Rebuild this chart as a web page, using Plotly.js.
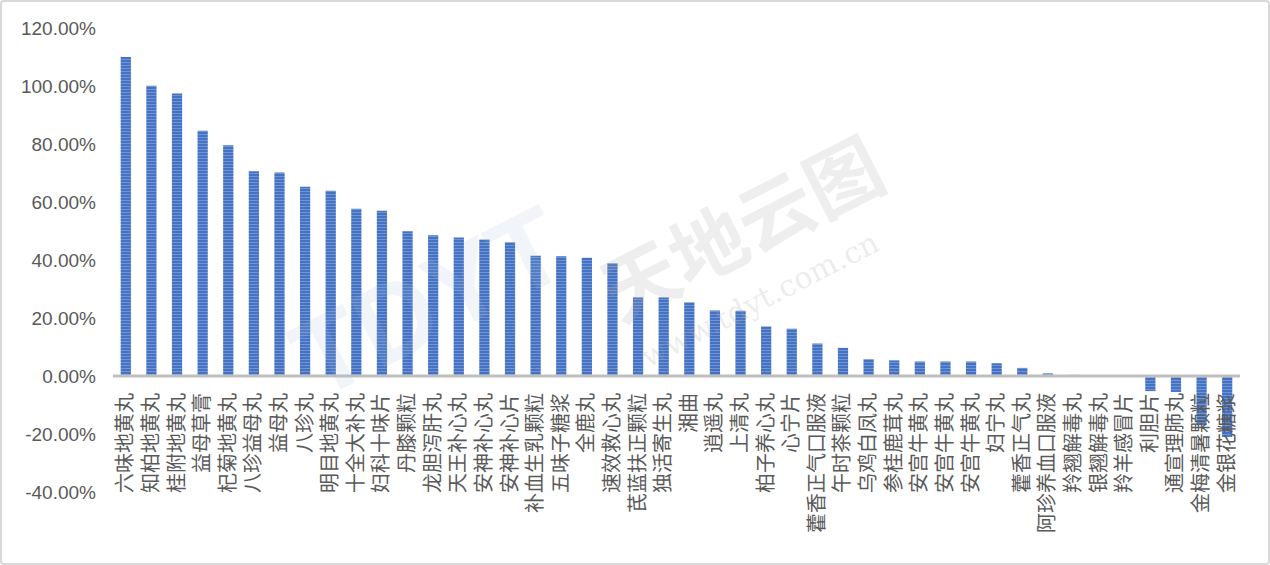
<!DOCTYPE html>
<html>
<head>
<meta charset="utf-8">
<script src="https://cdn.plot.ly/plotly-3.0.1.min.js"></script>
<style>
  html, body { margin:0; padding:0; background:#fff; }
  #wrap { position:relative; width:1270px; height:565px; }
  #chart { position:absolute; left:0; top:0; width:1270px; height:565px; }
  #frame { position:absolute; left:0; top:0; width:1266px; height:561px; border:2px solid #D9D9D9; border-radius:4px; pointer-events:none; }
</style>
</head>
<body>
<div id="wrap"><div id="chart"></div><div id="frame"></div></div>
<script>
const categories = ["六味地黄丸","知柏地黄丸","桂附地黄丸","益母草膏","杞菊地黄丸","八珍益母丸","益母丸","八珍丸","明目地黄丸","十全大补丸",
  "妇科十味片","丹膝颗粒","龙胆泻肝丸","天王补心丸","安神补心丸","安神补心片","补血生乳颗粒","五味子糖浆","全鹿丸","速效救心丸",
  "芪蓝扶正颗粒","独活寄生丸","湘曲","逍遥丸","上清丸","柏子养心丸","心宁片","藿香正气口服液","午时茶颗粒","乌鸡白凤丸",
  "参桂鹿茸丸","安宫牛黄丸","安宫牛黄丸","安宫牛黄丸","妇宁丸","藿香正气丸","阿珍养血口服液","羚翘解毒丸","银翘解毒丸","羚羊感冒片",
  "利胆片","通宣理肺丸","金梅清暑颗粒","金银花糖浆"];
const growthPct = [110.0,100.1,97.4,84.6,79.6,70.6,70.2,65.3,63.9,57.7,
  57.0,49.9,48.5,47.8,47.1,46.1,41.5,41.3,40.8,38.9,
  27.1,27.1,25.4,22.6,22.5,17.1,16.3,11.2,9.7,5.8,
  5.4,5.0,5.0,5.0,4.4,2.8,0.9,0.4,0,0,
  -5.2,-5.5,-17,-21];
const yTickVals = [-40,-20,0,20,40,60,80,100,120];
const yTickText = ["-40.00%","-20.00%","0.00%","20.00%","40.00%","60.00%","80.00%","100.00%","120.00%"];

const idx = categories.map((c,i)=>i);
const yMin = -40, yMax = 120;

const trace = {
  type:'bar',
  x: idx,
  y: growthPct,
  width: 0.4,
  marker: {
    color:'#4472C4',
    line:{width:0},
    pattern:{shape:'-', fgcolor:'#9DB5E2', bgcolor:'#4472C4', size:3, solidity:0.35, fillmode:'overlay'}
  },
  hoverinfo:'none'
};

const layout = {
  width:1270, height:565,
  margin:{l:113, r:30, t:28, b:73},
  paper_bgcolor:'#ffffff', plot_bgcolor:'#ffffff',
  showlegend:false,
  font:{family:'"Noto Sans CJK SC", "Liberation Sans", sans-serif', color:'#595959'},
  xaxis:{
    range:[-0.5, categories.length-0.5],
    anchor:'free', position:(0 - yMin)/(yMax - yMin),
    tickmode:'array', tickvals: idx, ticktext: categories,
    tickangle:-90, showgrid:false, zeroline:false, showline:false, ticks:'',
    ticklabelstandoff:12,
    tickfont:{size:20, color:'#595959', family:'"Noto Sans CJK SC", sans-serif'},
    automargin:false, fixedrange:true
  },
  yaxis:{
    range:[yMin,yMax],
    tickmode:'array', tickvals:yTickVals, ticktext:yTickText,
    showgrid:false, zeroline:false, showline:false, ticks:'',
    ticklabelstandoff:16,
    tickfont:{size:19, color:'#595959', family:'"Liberation Sans", "Noto Sans", sans-serif'},
    automargin:false, fixedrange:true
  },
  shapes:[{type:'line', xref:'x', yref:'y', x0:-0.5, x1:categories.length-0.5, y0:0, y1:0,
           line:{color:'#BFBFBF', width:3}, layer:'above'}],
  annotations:[
    {text:'<b>TDYT</b>', xref:'paper', yref:'paper', x:0.28, y:0.41, xanchor:'center', yanchor:'middle',
     showarrow:false, textangle:-27,
     font:{size:110, color:'rgba(160,180,215,0.15)', family:'"Liberation Sans", sans-serif'}},
    {text:'<b>天地云图</b>', xref:'paper', yref:'paper', x:0.556, y:0.575, xanchor:'center', yanchor:'middle',
     showarrow:false, textangle:-27,
     font:{size:76, color:'rgba(170,170,170,0.2)', family:'"Noto Sans CJK SC", sans-serif'}},
    {text:'www.tdyt.com.cn', xref:'paper', yref:'paper', x:0.574, y:0.414, xanchor:'center', yanchor:'middle',
     showarrow:false, textangle:-27,
     font:{size:30, color:'rgba(170,170,170,0.22)', family:'"DejaVu Serif", serif'}}
  ]
};

Plotly.newPlot('chart', [trace], layout, {displayModeBar:false, staticPlot:true});
</script>
</body>
</html>
